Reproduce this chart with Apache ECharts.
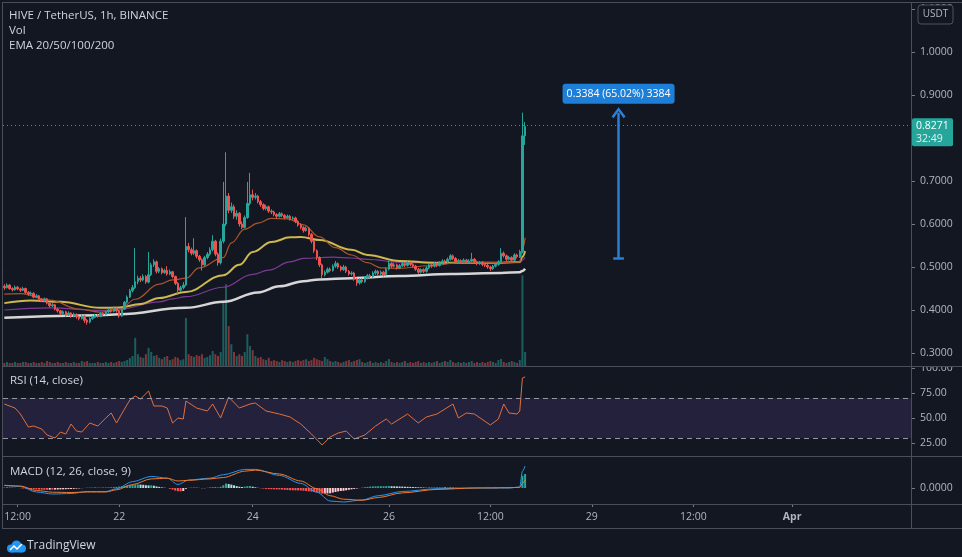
<!DOCTYPE html>
<html><head><meta charset="utf-8">
<script src="https://cdn.jsdelivr.net/npm/echarts@6/dist/echarts.min.js"></script>
<style>html,body{margin:0;padding:0;background:#131722;}#c{width:962px;height:557px;}</style>
</head><body><div id="c"></div>
<script>
// ---- data (hourly candles, HIVE/USDT) ----
const firstOpen = 0.455;
const closes = [
.452,.458,.450,.447,.453,.449,.446,.450,.441,.437,
.439,.430,.433,.425,.421,.426,.416,.410,.412,.402,
.398,.392,.396,.388,.393,.386,.390,.384,.380,.386,
.376,.372,.380,.383,.388,.385,.392,.390,.396,.400,
.397,.404,.398,.386,.402,.418,.430,.445,.452,.466,
.474,.470,.478,.465,.482,.505,.512,.490,.496,.487,
.492,.484,.489,.478,.462,.446,.452,.458,.548,.540,
.532,.538,.525,.517,.505,.522,.530,.540,.560,.530,
.510,.560,.600,.665,.632,.640,.618,.625,.600,.592,
.615,.648,.668,.662,.665,.652,.645,.636,.640,.630,
.628,.622,.618,.624,.620,.615,.618,.612,.614,.606,
.598,.592,.585,.590,.576,.560,.538,.522,.505,.482,
.488,.495,.492,.502,.508,.500,.494,.500,.490,.484,
.486,.472,.463,.470,.466,.475,.480,.478,.486,.490,
.484,.488,.482,.495,.508,.502,.505,.498,.503,.508,
.504,.510,.506,.502,.495,.488,.494,.490,.498,.505,
.502,.508,.504,.510,.514,.512,.518,.526,.520,.512,
.515,.512,.516,.511,.514,.518,.512,.508,.511,.506,
.504,.500,.496,.502,.506,.512,.532,.526,.518,.522,
.516,.528,.524,.536,.805,.827];
const highs = [
.460,.462,.460,.453,.457,.456,.452,.454,.452,.444,
.443,.441,.437,.435,.428,.429,.428,.418,.416,.414,
.405,.400,.399,.398,.397,.395,.394,.392,.387,.389,
.388,.379,.383,.387,.391,.391,.395,.395,.399,.404,
.403,.408,.406,.400,.405,.421,.434,.449,.458,.544,
.480,.479,.483,.481,.535,.510,.518,.515,.500,.499,
.496,.502,.494,.491,.480,.465,.456,.465,.616,.556,
.545,.567,.541,.528,.520,.526,.535,.546,.574,.563,
.534,.566,.698,.767,.672,.650,.645,.632,.628,.606,
.620,.698,.719,.680,.672,.668,.656,.648,.645,.643,
.634,.631,.625,.628,.627,.623,.622,.621,.618,.617,
.609,.601,.595,.594,.593,.579,.563,.541,.525,.508,
.492,.499,.499,.506,.514,.511,.503,.505,.503,.493,
.490,.489,.475,.474,.474,.479,.484,.484,.490,.494,
.493,.492,.491,.499,.515,.511,.509,.508,.507,.512,
.511,.514,.513,.509,.505,.498,.497,.497,.502,.509,
.508,.512,.511,.514,.518,.517,.522,.530,.529,.523,
.519,.518,.520,.519,.518,.533,.521,.515,.514,.514,
.509,.507,.503,.505,.509,.516,.544,.536,.529,.526,
.525,.532,.531,.540,.859,.837];
const lows = [
.447,.450,.447,.443,.445,.446,.442,.444,.438,.433,
.434,.427,.428,.422,.418,.419,.413,.406,.407,.399,
.394,.388,.389,.384,.386,.382,.383,.380,.376,.378,
.370,.366,.369,.377,.381,.382,.383,.386,.388,.393,
.394,.395,.394,.382,.384,.400,.415,.428,.441,.449,
.460,.465,.467,.461,.462,.479,.500,.485,.486,.483,
.484,.480,.481,.474,.458,.435,.442,.448,.455,.534,
.527,.528,.520,.512,.492,.502,.518,.526,.536,.525,
.503,.506,.555,.595,.625,.626,.612,.610,.594,.588,
.590,.612,.643,.655,.657,.648,.640,.632,.632,.626,
.623,.618,.613,.615,.616,.611,.612,.608,.609,.602,
.594,.588,.580,.582,.571,.555,.533,.516,.500,.474,
.478,.485,.488,.489,.498,.496,.490,.491,.486,.480,
.480,.468,.456,.459,.462,.463,.471,.474,.475,.482,
.480,.480,.478,.480,.492,.498,.499,.494,.495,.500,
.500,.501,.502,.498,.491,.484,.485,.486,.487,.495,
.498,.499,.500,.501,.506,.508,.509,.515,.516,.508,
.508,.508,.509,.507,.508,.511,.508,.504,.505,.502,
.500,.496,.491,.493,.499,.503,.510,.522,.514,.515,
.512,.514,.520,.521,.532,.784];
const volumes = [
33,44,33,33,44,33,33,44,44,33,
33,44,33,33,44,33,55,44,33,33,
44,33,33,44,33,33,44,33,33,55,
44,55,33,33,33,44,33,33,44,33,
44,33,44,55,44,55,66,88,110,310,
130,100,90,130,200,155,110,120,90,75,
100,110,65,75,100,90,65,75,530,130,
110,100,120,110,130,90,100,120,165,130,
110,155,700,900,440,240,155,110,130,110,
155,350,220,175,110,90,100,75,65,90,
55,65,55,44,65,55,44,55,44,55,
65,55,65,75,55,65,90,75,65,55,
100,75,55,44,55,44,33,44,55,66,
44,55,66,75,44,33,44,55,33,44,
33,44,33,55,77,44,33,44,33,44,
55,33,44,33,44,55,33,44,33,44,
33,44,55,33,44,55,44,66,44,33,
44,33,44,33,44,55,33,44,33,44,
33,44,55,44,33,66,77,44,33,44,
55,44,33,66,1000,155];
// EMA lines: [candle index, value] read at points along each line
const ema20 = [[0,.437],[6,.438],[17,.423],[28,.402],[36,.395],[43,.400],[49,.425],[58,.460],[63,.470],[68,.474],[73,.498],[82,.522],[85,.556],[90,.588],[95,.602],[100,.613],[106,.612],[112,.598],[118,.570],[124,.545],[130,.528],[136,.510],[141,.498],[148,.497],[159,.503],[171,.510],[186,.510],[193,.512],[194,.540],[195,.568]];
const ema50 = [[0,.416],[10,.422],[21,.419],[36,.405],[43,.406],[51,.414],[58,.428],[68,.442],[82,.481],[88,.505],[93,.535],[100,.558],[107,.569],[111,.570],[118,.563],[130,.540],[136,.528],[148,.514],[161,.510],[173,.510],[186,.510],[193,.512],[194,.524],[195,.537]];
const ema100 = [[0,.400],[17,.405],[36,.399],[43,.402],[58,.419],[63,.426],[68,.431],[82,.453],[93,.483],[99,.493],[107,.512],[112,.520],[123,.523],[130,.521],[136,.518],[148,.511],[163,.509],[193,.510],[194,.516],[195,.522]];
const ema200 = [[0,.382],[36,.388],[43,.390],[68,.405],[82,.419],[95,.441],[103,.455],[112,.467],[118,.471],[130,.474],[148,.479],[167,.484],[186,.486],[193,.488],[194,.491],[195,.496]];
// RSI (14): [candle index, value]
const rsiPts = [[0,64],[4,60],[6,54],[9,41],[11,42],[14,39],[16,33],[19,30],[21,36],[23,34],[25,44],[27,37],[29,36],[32,45],[35,42],[38,50],[40,55],[42,45],[45,59],[47,68],[49,72],[51,69],[54,77],[56,62],[59,62],[61,60],[63,45],[65,50],[67,49],[68,67],[72,60],[76,57],[78,64],[81,50],[84,71],[88,60],[92,64],[94,65],[98,57],[103,54],[107,51],[111,44],[115,34],[119,23],[122,31],[125,35],[128,37],[131,29],[135,33],[139,42],[143,49],[145,44],[151,54],[155,45],[158,51],[162,54],[168,64],[170,50],[173,55],[176,54],[182,43],[185,49],[187,64],[189,55],[192,54],[193,57],[194,90],[195,91]];
// MACD (12,26,9) in thousandths of USDT
const macdPts = [[0,2.8],[6,1.5],[12,-4],[18,-6],[25,-5.5],[31,-3.5],[38,-3.5],[42,-0.7],[48,6.3],[55,11.6],[61,9.8],[65,3.5],[69,8],[77,9.8],[82,13.3],[90,18.6],[94,18.6],[103,12.6],[111,4.6],[117,-4.2],[122,-13],[127,-14],[134,-11.9],[140,-7.7],[149,-3.5],[162,-0.7],[176,0],[189,0],[193,1],[194,16.8],[195,22]];
const signalPts = [[0,2.5],[6,2],[12,-2.5],[18,-4.2],[25,-4.5],[31,-4],[38,-4],[42,-1.8],[48,3.5],[55,9.1],[61,9.8],[65,7],[69,7.7],[77,9.1],[82,10.5],[90,16.8],[94,17.9],[103,14],[111,7],[117,-0.7],[122,-7.7],[127,-11.2],[134,-12.3],[140,-9.5],[149,-4.9],[162,-1.4],[176,0],[189,0.3],[193,0.7],[194,4.6],[195,8]];
const macdHistMilli = [
0.5,0.4,0.3,0.2,0.1,0,-0.2,-0.4,-0.6,
-0.8,-1.0,-1.2,-1.4,-1.6,-1.7,-1.8,-1.8,-1.7,-1.7,-1.6,-1.5,-1.4,-1.3,-1.2,-1.1,-1.0,
-0.8,-0.6,-0.4,-0.2,0.1,0.3,0.4,0.4,0.3,0.4,0.4,0.5,0.5,0.6,0.7,
0.9,1.1,1.4,1.8,2.2,2.6,2.9,
3.1,3.5,3.6,3.4,3.2,2.8,2.6,2.7,
2.3,1.6,1.1,0.6,0.3,0,-0.8,-1.6,-2.6,
-3.2,-3.4,-3.0,-0.8,
0.2,0.4,0.5,0.3,0.1,-0.3,-0.2,0.2,0.6,0.8,0.5,0.3,1.2,
2.8,4.5,4.0,3.4,2.7,1.9,1.3,1.0,1.4,1.9,2.0,1.3,
0.7,0.2,-0.3,-0.6,-0.9,-1.1,-1.2,-1.3,-1.4,-1.4,
-1.6,-1.8,-2.0,-2.2,-2.3,-2.4,-2.4,-2.5,-2.8,-3.0,-3.3,-3.6,-4.0,-4.5,-5.0,
-5.6,-5.5,-5.4,-5.3,-4.6,-4.0,-3.4,-3.0,
-2.8,-2.3,-1.8,-1.3,-0.9,-0.5,-0.1,0.4,0.8,1.1,1.4,1.6,1.7,1.8,
1.8,1.8,1.9,2.0,1.8,1.7,1.6,1.5,1.4,1.3,1.2,1.1,1.0,0.9,0.7,0.6,0.5,0.5,0.6,0.6,
0.6,0.7,0.7,0.7,0.6,0.6,0.5,0.4,0.3,0.2,0.1,0,-0.1,-0.2,-0.2,-0.1,0,0.1,0.1,0,-0.1,-0.2,-0.3,-0.2,0,
0.3,0.3,0.2,0.1,-0.1,0.1,0.2,0.3,
12.2,14];
const priceTicks = [0.3,0.4,0.5,0.6,0.7,0.9,1.0,1.1];
const rsiTicks = [25,50,75,100];
const macdTicks = [0];
const timeTickIndex = [5,43,93,144,182,220,258,295];
const timeTickLabels = ['12:00','22','24','26','12:00','29','12:00','Apr'];
const slotCount = 340;
const lastPrice = 0.8271, countdown = '32:49';
const measureIndex = 230, measureFrom = 0.5205, measureTo = 0.8589;
const measureText = '0.3384 (65.02%) 3384';

// ---- build ----
const FF = '"Open Sans","Noto Sans",sans-serif';
const TXT = '#b2b5be';
const cats = Array.from({length: slotCount}, (_, i) => String(i));
const opens = closes.map((c, i) => i === 0 ? firstOpen : closes[i - 1]);
const candle = closes.map((c, i) => [opens[i], c, lows[i], highs[i]]);
const volData = volumes.map((v, i) => ({value: v, itemStyle: {color: closes[i] >= opens[i] ? 'rgba(38,166,154,0.5)' : 'rgba(239,83,80,0.5)'}}));
const histData = macdHistMilli.map((v, i) => {
  const p = i ? macdHistMilli[i - 1] : 0;
  const col = v >= 0 ? (v >= p ? '#26a69a' : '#b2dfdb') : (v <= p ? '#ff5252' : '#ffcdd2');
  return {value: v, itemStyle: {color: col}};
});

function xAx(g, show) {
  return {
    type: 'category', gridIndex: g, data: cats, boundaryGap: true, position: 'bottom',
    axisLine: {show: false, onZero: false}, splitLine: {show: false},
    axisTick: show ? {show: true, length: 3, alignWithLabel: true, interval: (i) => timeTickIndex.includes(i), lineStyle: {color: '#787b86'}} : {show: false},
    axisLabel: show ? {
      show: true, margin: 8, color: TXT, fontSize: 10.5, fontFamily: FF,
      interval: (i) => timeTickIndex.includes(i),
      formatter: (v) => { const k = timeTickIndex.indexOf(Number(v)); if (k < 0) return ''; const t = timeTickLabels[k]; return t === 'Apr' ? '{b|Apr}' : t; },
      rich: {b: {fontWeight: 'bold', color: TXT, fontSize: 10.5, fontFamily: FF}}
    } : {show: false}
  };
}
function yAx(g, min, max, ticks, fmt) {
  return {
    type: 'value', gridIndex: g, position: 'right', min: min, max: max,
    splitLine: {show: false}, axisLine: {show: false, onZero: false},
    axisTick: {show: true, length: 4, customValues: ticks, lineStyle: {color: '#787b86'}},
    axisLabel: {show: true, customValues: ticks, formatter: fmt, margin: 9, color: TXT, fontSize: 10.5, fontFamily: FF}
  };
}
const lineCol = '#4a4e5a';
function hl(y) { return {type: 'line', silent: true, z: 100, shape: {x1: 2, y1: y, x2: 962, y2: y}, style: {stroke: lineCol, lineWidth: 1}}; }
function vl(x) { return {type: 'line', silent: true, z: 100, shape: {x1: x, y1: 2, x2: x, y2: 529}, style: {stroke: lineCol, lineWidth: 1}}; }
function txt(x, y, s, size, col) { return {type: 'text', silent: true, z: 100, x: x, y: y, style: {text: s, fill: col || '#d1d4dc', font: (size || 11) + 'px ' + FF, textVerticalAlign: 'middle'}}; }
const chevron = 'path://M0,9 L7,0 L14,9 L12,10.6 L7,3.8 L2,10.6 Z';
const boxPath = 'path://M3,0 H109 Q112,0 112,3 V17 Q112,20 109,20 H3 Q0,20 0,17 V3 Q0,0 3,0 Z';

const chart = echarts.init(document.getElementById('c'), null, {renderer: 'canvas'});
chart.setOption({
  backgroundColor: '#131722',
  animation: false,
  grid: [
    {left: 3, top: 3, width: 908, height: 363},
    {left: 3, top: 3, width: 908, height: 363},
    {left: 3, top: 367, width: 908, height: 89},
    {left: 3, top: 456, width: 908, height: 48}
  ],
  xAxis: [xAx(0, false), xAx(1, false), xAx(2, false), xAx(3, true)],
  yAxis: [
    yAx(0, 0.2698, 1.114, priceTicks, (v) => v.toFixed(4)),
    {type: 'value', gridIndex: 1, min: 0, max: 4000, show: false},
    yAx(2, 12, 101, rsiTicks, (v) => v.toFixed(2)),
    yAx(3, -16, 32, macdTicks, (v) => (v / 1000).toFixed(4))
  ],
  series: [
    {type: 'bar', name: 'Vol', xAxisIndex: 1, yAxisIndex: 1, data: volData, barWidth: 2, z: 1},
    {type: 'line', name: 'EMA200', xAxisIndex: 0, yAxisIndex: 0, data: ema200, smooth: 0.4, smoothMonotone: 'x', showSymbol: false, lineStyle: {color: '#d6d6d6', width: 2.5}, z: 3},
    {type: 'line', name: 'EMA100', xAxisIndex: 0, yAxisIndex: 0, data: ema100, smooth: 0.4, smoothMonotone: 'x', showSymbol: false, lineStyle: {color: '#7d3a94', width: 1.2}, z: 3},
    {type: 'line', name: 'EMA50', xAxisIndex: 0, yAxisIndex: 0, data: ema50, smooth: 0.4, smoothMonotone: 'x', showSymbol: false, lineStyle: {color: '#cdb94e', width: 2}, z: 3},
    {type: 'line', name: 'EMA20', xAxisIndex: 0, yAxisIndex: 0, data: ema20, smooth: 0.4, smoothMonotone: 'x', showSymbol: false, lineStyle: {color: '#a8552b', width: 1.2}, z: 3},
    {type: 'candlestick', name: 'HIVE', xAxisIndex: 0, yAxisIndex: 0, data: candle, barWidth: 2, z: 4,
      itemStyle: {color: '#26a69a', color0: '#ef5350', borderColor: '#26a69a', borderColor0: '#ef5350', borderWidth: 1},
      markLine: {silent: true, animation: false, symbol: ['none', 'none'], label: {show: false},
        data: [
          {yAxis: lastPrice, lineStyle: {color: '#26a69a', type: [1, 3], width: 1}},
          [{coord: [measureIndex, measureFrom], symbol: 'none', lineStyle: {color: '#2a7fd6', width: 2.5, type: 'solid'}},
           {coord: [measureIndex, measureTo], symbol: chevron, symbolSize: [14, 11], lineStyle: {color: '#2a7fd6', width: 2.5, type: 'solid'}}],
          [{coord: [measureIndex - 2, measureFrom], lineStyle: {color: '#2a7fd6', width: 2.5, type: 'solid'}},
           {coord: [measureIndex + 2, measureFrom], lineStyle: {color: '#2a7fd6', width: 2.5, type: 'solid'}}]
        ]},
      markPoint: {silent: true, animation: false, data: [
        {coord: [measureIndex, measureTo], symbol: boxPath, symbolSize: [112, 20], symbolOffset: [0, -19], symbolKeepAspect: false,
         itemStyle: {color: '#1e7fd8'},
         label: {show: true, position: 'inside', formatter: measureText, color: '#ffffff', fontSize: 10.5, fontFamily: FF}}
      ]}
    },
    {type: 'line', name: 'RSI', xAxisIndex: 2, yAxisIndex: 2, data: rsiPts, showSymbol: false, lineStyle: {color: '#e0703c', width: 1}, z: 3,
      markArea: {silent: true, itemStyle: {color: 'rgba(126,87,194,0.16)'}, data: [[{yAxis: 30}, {yAxis: 70}]]},
      markLine: {silent: true, symbol: ['none', 'none'], label: {show: false}, lineStyle: {color: '#9598a1', type: [5, 4], width: 1},
        data: [{yAxis: 70}, {yAxis: 30}]}
    },
    {type: 'bar', name: 'Histogram', xAxisIndex: 3, yAxisIndex: 3, data: histData, barWidth: 2, z: 2},
    {type: 'line', name: 'MACD', xAxisIndex: 3, yAxisIndex: 3, data: macdPts, smooth: 0.3, smoothMonotone: 'x', showSymbol: false, lineStyle: {color: '#2196f3', width: 1}, z: 3},
    {type: 'line', name: 'Signal', xAxisIndex: 3, yAxisIndex: 3, data: signalPts, smooth: 0.3, smoothMonotone: 'x', showSymbol: false, lineStyle: {color: '#f0782c', width: 1}, z: 3}
  ],
  graphic: [
    hl(2.5), hl(366.5), hl(456.5), hl(504.5), hl(528.5), vl(2.5), vl(911.5),
    {type: 'rect', silent: true, z: 90, shape: {x: 912, y: 359.5, width: 50, height: 7}, style: {fill: '#131722'}},
    {type: 'rect', silent: true, z: 95, shape: {x: 918, y: 5, width: 35, height: 19, r: 3}, style: {fill: '#131722', stroke: '#50535e', lineWidth: 1}},
    {type: 'text', silent: true, z: 96, x: 935.5, y: 14.5, style: {text: 'USDT', fill: TXT, font: '10px ' + FF, textAlign: 'center', textVerticalAlign: 'middle'}},
    txt(9, 16, 'HIVE / TetherUS, 1h, BINANCE', 11.5),
    txt(9, 31, 'Vol', 11.5),
    txt(9, 46, 'EMA 20/50/100/200', 11.5),
    txt(10, 381, 'RSI (14, close)', 11.5),
    txt(10, 472, 'MACD (12, 26, close, 9)', 11.5),
    {type: 'group', x: 5, y: 537, silent: true, z: 100, children: [
      {type: 'circle', shape: {cx: 6, cy: 11.5, r: 4}, style: {fill: '#2196f3'}},
      {type: 'circle', shape: {cx: 11.5, cy: 8.5, r: 5}, style: {fill: '#2196f3'}},
      {type: 'circle', shape: {cx: 17, cy: 11.5, r: 4}, style: {fill: '#2196f3'}},
      {type: 'rect', shape: {x: 6, y: 11, width: 11, height: 4.5}, style: {fill: '#2196f3'}},
      {type: 'polyline', shape: {points: [[5, 13], [9, 9], [12, 12], [17, 7]]}, style: {stroke: '#ffffff', lineWidth: 1.5, fill: null}}
    ]},
    txt(27, 546, 'TradingView', 12, '#d1d4dc')
  ]
});

// current price tag in the price scale, placed through the price axis
const py = chart.convertToPixel({yAxisIndex: 0}, lastPrice);
chart.setOption({graphic: [
  {type: 'rect', id: 'tagbg', silent: true, z: 97, shape: {x: 912, y: py - 8, width: 41, height: 28, r: 2}, style: {fill: '#26a69a'}},
  {type: 'text', id: 'tag1', silent: true, z: 98, x: 916, y: py, style: {text: lastPrice.toFixed(4), fill: '#ffffff', font: '10.5px ' + FF, textVerticalAlign: 'middle'}},
  {type: 'text', id: 'tag2', silent: true, z: 98, x: 916, y: py + 13, style: {text: countdown, fill: '#e0f2f1', font: '10.5px ' + FF, textVerticalAlign: 'middle'}}
]});
</script>
</body></html>
